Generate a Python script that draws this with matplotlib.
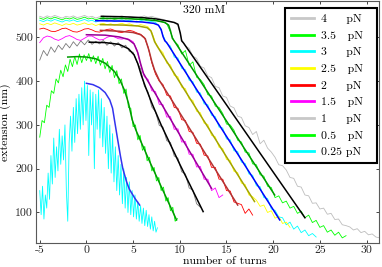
import numpy as np
import matplotlib
matplotlib.use('Agg')
from matplotlib import pyplot as plt
from matplotlib.lines import Line2D

plt.rcParams['font.family'] = 'serif'
plt.rcParams['font.serif'] = ['cmr10']
plt.rcParams['axes.unicode_minus'] = False
plt.rcParams['font.size'] = 8.5

# forces in legend order
forces = ['4', '3.5', '3', '2.5', '2', '1.5', '1', '0.5', '0.25']
data_colors = ['#bdbdbd', '#00ff00', '#00ffff', '#ffff00', '#ff0000', '#ff00ff', '#7a7a7a', '#00ff00', '#00ffff']
legend_colors = ['#c8c8c8', '#00ff00', '#00ffff', '#ffff00', '#ff0000', '#ff00ff', '#c8c8c8', '#00ff00', '#00ffff']
fit_colors = ['#000000', '#009900', '#0000ff', '#a3a300', '#b33333', '#990099', '#000000', '#009900', '#3333ee']

# measured extension (nm); first turn and step of each trace
start_turn = [-5, -5, -5, -5, -5, -5, -5, -5, -5]
turn_step = [0.4, 0.4, 0.4, 0.4, 0.4, 0.4, 0.4, 0.25, 0.15]

ext_4 = [548, 545, 549, 546, 550, 547, 544, 548, 546, 549, 545, 547, 550, 546, 548, 544,
         547, 549, 546, 548, 545, 547, 549, 546, 548, 546, 544, 547, 549, 546, 548, 545,
         543, 541, 538, 536, 533, 528, 495, 480,
         475, 457, 452, 434, 430, 412, 408, 388, 385, 366, 363, 343, 339, 320, 317, 298, 294,
         278, 285, 257, 265, 247, 238, 226, 209, 207, 197, 180, 178, 160, 158, 140, 138, 121,
         122, 108, 110, 96, 98, 84, 85, 72, 70,
         67, 60, 63, 54, 57, 49, 51, 44, 42]
ext_35 = [544, 541, 545, 542, 546, 543, 540, 544, 542, 545, 541, 543, 546, 542, 544, 540,
          543, 545, 542, 544, 541, 543, 545, 542, 544, 542, 540, 543, 545, 542, 544,
          539, 537, 535, 531, 512, 491,
          483, 462, 470, 436, 444, 409, 404, 392, 369, 366, 343, 340, 326, 302, 300, 288,
          265, 261, 238, 236, 211, 209, 186, 183, 160, 157, 134,
          138, 122, 126, 110, 114, 98, 103, 88, 94, 77, 82, 66, 70, 55, 60, 48, 55, 42, 47]
ext_3 = [539, 536, 540, 537, 541, 538, 535, 539, 537, 540, 536, 538, 541, 537, 539, 535,
         538, 540, 537, 539, 536, 538, 540, 537, 539, 537, 535, 538, 540, 537, 536, 534,
         526, 505, 486,
         480, 455, 453, 429, 426, 402, 399, 375, 373, 348, 346, 322, 319, 295, 293, 268,
         266, 241, 239, 215, 212, 188, 185, 161, 159, 134, 132, 108, 105, 90,
         88, 72, 78, 62, 69, 54, 60, 47, 52, 44]
ext_25 = [531, 528, 532, 529, 533, 530, 527, 531, 529, 532, 528, 530, 533, 529, 531, 527,
          530, 532, 529, 531, 528, 530, 532, 529, 531, 528, 526, 529, 527, 524,
          512, 488, 474,
          465, 441, 437, 413, 410, 386, 383, 359, 356, 331, 328, 304, 301, 276, 273, 249,
          246, 221, 219, 194, 191, 167, 164, 140, 136,
          128, 114, 117, 100, 104, 87, 91, 75, 78, 66]
ext_2 = [519, 521, 518, 514, 513, 516, 520, 521, 517, 513, 512, 515, 519, 520, 517, 513,
         512, 515, 518, 519, 516, 512, 511, 514, 516, 514, 510, 507,
         500, 478, 442, 416, 400,
         392, 368, 366, 340, 338, 312, 310, 285, 283, 258, 256, 231, 229, 203, 203, 176,
         176, 150, 149, 124, 121,
         118, 98, 108, 94]
ext_15 = [488, 499, 503, 501, 496, 493, 497, 502, 504, 500, 495, 493, 498, 503, 503, 498,
          494, 495, 500, 503, 501, 497, 496, 498, 495,
          490, 472, 438, 410,
          404, 378, 376, 347, 346, 318, 319, 290, 291, 261, 262, 233, 233, 204, 205, 176, 176, 150,
          156, 134, 140]
ext_1 = [448, 470, 458, 478, 466, 482, 472, 486, 476, 490, 480, 492, 483, 494, 484, 491,
         485, 493, 482, 490, 480, 488, 476, 482, 468, 466, 444, 428, 389, 375, 341, 330,
         299, 295, 264, 260, 229, 224, 193, 188, 156, 151, 120, 112]
ext_05 = [272, 310, 305, 345, 340, 378, 372, 405, 396, 425, 410, 437, 422, 450, 433, 456,
          438, 462, 442, 460, 447, 463, 444, 458, 440, 457, 436, 452, 428, 445, 420, 436,
          408, 424, 394, 405, 372, 382, 340, 338, 296, 300, 266, 276, 242, 251, 218, 226,
          195, 203, 172, 180, 150, 158, 126, 134, 104, 112, 80, 86]
ext_025 = [150, 95, 160, 85, 140, 110, 190, 130, 230, 165, 270, 180, 250, 195, 290, 210,
           275, 220, 300, 150, 80, 260, 320, 240, 340, 260, 360, 280, 370, 290, 385, 300,
           400, 310, 390, 230, 380, 300, 375, 200, 370, 290, 380, 270, 360, 250, 340, 235,
           320, 200, 300, 190, 280, 170, 250, 150, 230, 140, 210, 120, 200, 110, 180, 100,
           170, 95, 150, 90, 140, 85, 125, 80, 115, 75, 110, 70, 105, 68, 95, 62,
           90, 58, 80, 55, 65]

# fitted curves (turns, nm)
fit_x_4 = [1.6, 4, 6, 7.5, 8.5, 9.4, 9.8, 10.05, 10.2, 10.4, 23.4]
fit_y_4 = [548, 547, 545, 542, 538, 534, 530, 510, 492, 487, 88]
fit_x_35 = [1.5, 4, 6, 7.5, 8.4, 8.8, 9.0, 9.2, 9.4, 20.16]
fit_y_35 = [543, 543, 541, 538, 534, 528, 515, 498, 492, 140]
fit_x_3 = [1.0, 4, 6, 7.2, 7.7, 8.0, 8.2, 8.4, 8.6, 20.7]
fit_y_3 = [538, 537, 535, 532, 528, 518, 502, 492, 488, 83]
fit_x_25 = [1.5, 4, 5.5, 6.5, 6.9, 7.1, 7.3, 7.6, 18.0]
fit_y_25 = [529, 528, 526, 522, 515, 503, 490, 479, 125]
fit_x_2 = [1.5, 3.5, 5, 5.8, 6.3, 6.7, 7.0, 7.3, 7.8, 16.2]
fit_y_2 = [516, 514, 511, 506, 497, 470, 445, 425, 402, 117]
fit_x_15 = [0, 2, 3.5, 4.5, 5.1, 5.5, 5.8, 6.1, 6.5, 13.4]
fit_y_15 = [506, 505, 501, 495, 485, 465, 440, 418, 403, 155]
fit_x_1 = [0.3, 2, 3.5, 4.5, 5.1, 5.5, 5.9, 6.3, 7.0, 8, 10, 12.5]
fit_y_1 = [489, 488, 484, 474, 460, 440, 412, 388, 350, 300, 210, 102]
fit_x_05 = [-2, -1, 0, 1, 2, 3, 3.6, 4.1, 4.5, 4.9, 5.3, 6.8, 9.65]
fit_y_05 = [455, 456, 455, 451, 441, 422, 402, 378, 350, 312, 288, 215, 83]
fit_x_025 = [0, 0.7, 1.4, 2.0, 2.5, 2.8, 3.05, 3.35, 3.65, 3.9, 4.3, 4.6, 5.2, 5.7]
fit_y_025 = [395, 392, 385, 374, 357, 338, 305, 266, 228, 200, 170, 153, 132, 117]

ext_all = [ext_4, ext_35, ext_3, ext_25, ext_2, ext_15, ext_1, ext_05, ext_025]
fit_x_all = [fit_x_4, fit_x_35, fit_x_3, fit_x_25, fit_x_2, fit_x_15, fit_x_1, fit_x_05, fit_x_025]
fit_y_all = [fit_y_4, fit_y_35, fit_y_3, fit_y_25, fit_y_2, fit_y_15, fit_y_1, fit_y_05, fit_y_025]

fig = plt.figure(figsize=(3.82, 2.67), dpi=100)
ax = fig.add_axes([36 / 382, 24.3 / 267, 342.7 / 382, 241.7 / 267])

# raw traces first, fits on top
for i in range(len(forces)):
    turns = start_turn[i] + turn_step[i] * np.arange(len(ext_all[i]))
    ax.plot(turns, ext_all[i], color=data_colors[i], lw=0.6)
for i in range(len(forces)):
    ax.plot(fit_x_all[i], fit_y_all[i], color=fit_colors[i], lw=1.1)

ax.set_xlim(-5.4, 31.3)
ax.set_ylim(31, 583)
ax.set_xticks(range(-5, 31, 5))
ax.set_yticks(range(100, 501, 100))
ax.tick_params(direction='in', length=2.5, width=0.6, top=True, right=True, pad=2, colors='0.15')
for s in ax.spines.values():
    s.set_color('0.35')
    s.set_linewidth(0.8)

ax.set_xlabel('number of turns')
ax.xaxis.set_label_coords(0.552, -0.058)
ax.set_ylabel('extension (nm)', labelpad=3)
ax.text(0.49, 0.963, '320 mM', transform=ax.transAxes, ha='center', va='center')

# legend: spaces line the "pN" up in one column (cmr10 space = 1/3 em)
gaps = {1: 5, 3: 3, 4: 1}
labels = [f + ' ' * gaps[len(f)] + 'pN  ' for f in forces]
handles = [Line2D([], [], color=c, lw=2.0) for c in legend_colors]
leg = ax.legend(handles, labels, loc='upper right', bbox_to_anchor=(0.995, 0.971),
                borderaxespad=0, fancybox=False, framealpha=1, edgecolor='k',
                handlelength=2.0, handletextpad=0.6, labelspacing=0.54, borderpad=0.5)
leg.get_frame().set_linewidth(1.5)

fig.savefig('out.png', dpi=100)
